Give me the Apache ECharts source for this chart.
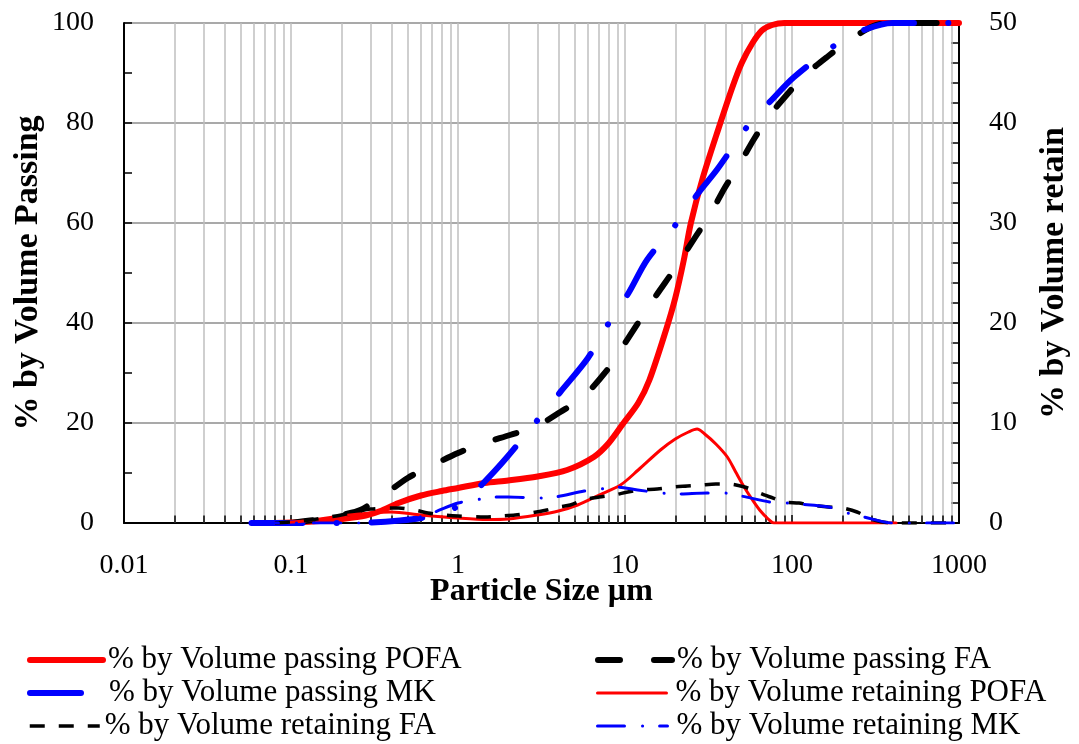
<!DOCTYPE html>
<html><head><meta charset="utf-8">
<script src="https://cdn.jsdelivr.net/npm/echarts@6/dist/echarts.min.js"></script>
<style>html,body{margin:0;padding:0;background:#fff}#c{width:1079px;height:744px}</style>
</head><body><div id="c"></div>
<script>
// ---- tick labels ----
const xTickLabels = ['0.01', '0.1', '1', '10', '100', '1000'];

// ---- % by Volume passing POFA (left axis) ----
const pofaPassX = [0.08, 0.1, 0.15, 0.2, 0.28, 0.35, 0.44, 0.6, 0.8, 1, 1.44, 2, 3, 4.5, 6.5, 8, 9.8, 12, 14, 17.6, 20, 22.5, 24.8, 29.2, 36.4, 44, 50, 58, 66, 76, 90, 200, 500, 1000];
const pofaPassY = [0, 0.1, 0.4, 0.8, 1.5, 2.5, 4.0, 5.5, 6.4, 7.0, 8.0, 8.5, 9.3, 10.6, 13.2, 16, 20, 24, 28.6, 38.6, 45, 52.6, 60, 69, 79, 87.2, 92, 96, 98.5, 99.6, 100, 100, 100, 100];

// ---- % by Volume passing FA (left axis) ----
const faPassX = [0.1, 0.13, 0.17, 0.2, 0.26, 0.36, 0.5, 0.69, 1, 1.37, 2.05, 2.9, 4.1, 5.6, 8, 10, 15, 20, 26.5, 32.7, 39.5, 48.4, 59, 73, 94, 118, 165, 218, 307, 400, 1000];
const faPassY = [0, 0.5, 1.0, 1.6, 2.6, 5.6, 9, 11.4, 14, 15.8, 17.6, 19.2, 22.2, 25.2, 31, 36, 45, 51, 57.3, 62, 67, 71.7, 76.7, 81.4, 85.8, 89.4, 93.4, 96.4, 99.4, 100, 100];

// ---- % by Volume passing MK (left axis) ----
const mkPassX = [0.058, 0.1, 0.2, 0.3, 0.45, 0.6, 0.69, 1.04, 1.4, 1.9, 3.1, 4.1, 6, 8, 10.5, 13.6, 21.3, 27.5, 35.6, 56, 75.5, 103, 193, 280, 400, 1000];
const mkPassY = [0, 0, 0, 0.1, 0.5, 1.0, 1.6, 3.6, 7.8, 12.6, 21.2, 26.2, 33, 40, 46, 52.7, 60.7, 66, 70.7, 80, 84.6, 89.2, 96.2, 98.8, 100, 100];

// ---- % by Volume retaining POFA (right axis) ----
const pofaRetX = [0.08, 0.12, 0.2, 0.3, 0.4, 0.6, 1, 1.5, 2, 3, 4, 5.2, 7, 9.4, 12, 16.3, 20, 24, 27, 30, 35, 41, 46, 51.7, 58, 64, 72, 78, 100, 200, 420];
const pofaRetY = [0, 0.2, 0.7, 1.0, 1.1, 0.8, 0.5, 0.35, 0.4, 0.8, 1.2, 1.8, 2.8, 3.8, 5.3, 7.3, 8.4, 9.1, 9.4, 8.9, 7.9, 6.6, 5.1, 3.6, 2.3, 1.3, 0.4, 0, 0, 0, 0];

// ---- % by Volume retaining FA (right axis) ----
const faRetX = [0.08, 0.1, 0.13, 0.17, 0.2, 0.24, 0.3, 0.44, 0.55, 0.66, 0.83, 1, 1.45, 1.8, 2.2, 2.7, 3.4, 4, 4.7, 5.6, 7, 8.6, 10.4, 12.4, 15.6, 19.5, 23.6, 28.5, 35, 42, 52, 62, 74, 90, 110, 127, 165, 200, 245, 310, 400, 1000];
const faRetY = [0, 0.1, 0.3, 0.6, 0.8, 1.1, 1.4, 1.5, 1.3, 1.0, 0.8, 0.7, 0.6, 0.7, 0.8, 1.0, 1.3, 1.6, 1.8, 2.3, 2.6, 2.8, 3.1, 3.3, 3.4, 3.6, 3.7, 3.8, 3.9, 3.9, 3.6, 3.1, 2.6, 2.1, 2.0, 1.8, 1.6, 1.5, 1.1, 0.3, 0, 0];

// ---- % by Volume retaining MK (right axis) ----
const mkRetX = [0.058, 0.3, 0.5, 0.7, 1, 1.28, 1.6, 2, 3, 3.8, 5.7, 7.1, 8.8, 11.9, 16.6, 20.5, 31, 39, 49.5, 74, 92, 110, 166, 215, 270, 400, 1000];
const mkRetY = [0, 0, 0.3, 1.0, 2.0, 2.3, 2.6, 2.6, 2.5, 2.6, 3.2, 3.4, 3.6, 3.3, 3.0, 2.9, 3.0, 3.0, 2.7, 2.1, 2.0, 1.9, 1.6, 1.0, 0.6, 0, 0];

const seriesNames = [
  '% by Volume passing POFA', '% by Volume passing FA', '% by Volume passing MK',
  '% by Volume retaining POFA', '% by Volume retaining FA', '% by Volume retaining MK'
];

function pairs(xs, ys) { return xs.map((x, i) => [x, ys[i]]); }

// minor log grid positions (2..9 x 10^k)
const minorGrid = [];
for (let e = -2; e < 3; e++) for (let k = 2; k < 10; k++) minorGrid.push(+(k * Math.pow(10, e)).toPrecision(3));

const FONT = 'Liberation Serif';
const gridLines = [];
minorGrid.forEach(v => {
  gridLines.push([{ coord: [v, 0], lineStyle: { color: '#bfbfbf', width: 1.5, type: 'solid' } }, { coord: [v, 100] }]);
});
minorGrid.forEach(v => {
  gridLines.push([{ coord: [v, 0], lineStyle: { color: '#000', width: 1.5, type: 'solid' } }, { coord: [v, 1.5] }]);
});

function lineSeries(idx, xs, ys, yAxisIndex, color, width, dash, cap) {
  return {
    name: seriesNames[idx], type: 'line', xAxisIndex: 0, yAxisIndex: yAxisIndex,
    data: pairs(xs, ys), symbol: 'none', showSymbol: false, smooth: 0.3,
    z: 3 + idx,
    lineStyle: { color: color, width: width, type: dash || 'solid', cap: cap || 'butt', join: 'round' },
    itemStyle: { color: color }
  };
}

function legendAt(name, left, top, w, pad) {
  return {
    data: [name], left: left, top: top, padding: 0, itemWidth: w, itemHeight: 14,
    selectedMode: false,
    itemStyle: { color: 'rgba(0,0,0,0)', borderWidth: 0, opacity: 0 },
    lineStyle: { width: 'inherit' },
    textStyle: { fontFamily: FONT, fontSize: 31, color: '#000', lineHeight: 32, padding: [0, 0, 0, pad || 0] }
  };
}

const chart = echarts.init(document.getElementById('c'), null, { renderer: 'canvas' });
chart.setOption({
  animation: false,
  backgroundColor: '#fff',
  grid: { left: 124, right: 114, top: 23, bottom: 221, containLabel: false },
  xAxis: {
    type: 'log', logBase: 10, min: 0.01, max: 1000,
    name: 'Particle Size µm', nameLocation: 'middle', nameGap: 53, nameMoveOverlap: false,
    nameTextStyle: { fontFamily: FONT, fontSize: 32, fontWeight: 'bold', color: '#000' },
    axisLine: { show: true, onZero: false, lineStyle: { color: '#000', width: 2 } },
    axisTick: { show: true, inside: true, length: 8, lineStyle: { color: '#000', width: 1.5 } },
    axisLabel: { margin: 29, fontFamily: FONT, fontSize: 28, color: '#000',
      formatter: v => xTickLabels[Math.round(Math.log10(v)) + 2] },
    splitLine: { show: true, lineStyle: { color: '#bfbfbf', width: 1.5 } }
  },
  yAxis: [{
    type: 'value', min: 0, max: 100, interval: 20, position: 'left',
    name: '% by Volume Passing', nameLocation: 'middle', nameGap: 79, nameRotate: 90, nameMoveOverlap: false,
    nameTextStyle: { fontFamily: FONT, fontSize: 34, fontWeight: 'bold', color: '#000' },
    axisLine: { show: true, onZero: false, lineStyle: { color: '#000', width: 2 } },
    axisTick: { show: true, inside: true, length: 8, lineStyle: { color: '#000', width: 1.5 } },
    minorTick: { show: true, splitNumber: 2, length: 8, lineStyle: { color: '#000', width: 1.5 } },
    axisLabel: { margin: 30, fontFamily: FONT, fontSize: 28, color: '#000' },
    splitLine: { show: true, lineStyle: { color: '#8c8c8c', width: 1.5 } }
  }, {
    type: 'value', min: 0, max: 50, interval: 10, position: 'right',
    name: '% by Volume retain', nameLocation: 'middle', nameGap: 78, nameRotate: 90, nameMoveOverlap: false,
    nameTextStyle: { fontFamily: FONT, fontSize: 34, fontWeight: 'bold', color: '#000' },
    axisLine: { show: true, onZero: false, lineStyle: { color: '#000', width: 2 } },
    axisTick: { show: true, inside: true, length: 8, lineStyle: { color: '#000', width: 1.5 } },
    minorTick: { show: true, splitNumber: 5, length: 8, lineStyle: { color: '#000', width: 1.5 } },
    axisLabel: { margin: 30, fontFamily: FONT, fontSize: 28, color: '#000' },
    splitLine: { show: false }
  }],
  legend: [
    legendAt(seriesNames[0], 27, 644, 73),
    legendAt(seriesNames[2], 27, 677, 62, 12),
    legendAt(seriesNames[4], 28, 710, 70),
    legendAt(seriesNames[1], 595, 644, 74),
    legendAt(seriesNames[3], 596, 677, 69, 4),
    legendAt(seriesNames[5], 596, 710, 70, 4)
  ],
  series: [
    {
      name: 'grid', type: 'line', data: [], xAxisIndex: 0, yAxisIndex: 0, z: 1, silent: true,
      markLine: { silent: true, z: 1, symbol: ['none', 'none'], label: { show: false }, animation: false, data: gridLines }
    },
    lineSeries(0, pofaPassX, pofaPassY, 0, '#ff0000', 6, 'solid', 'round'),
    lineSeries(1, faPassX, faPassY, 0, '#000000', 6, [22, 34], 'round'),
    lineSeries(2, mkPassX, mkPassY, 0, '#0000ff', 6, [51, 34, 0.1, 35], 'round'),
    lineSeries(3, pofaRetX, pofaRetY, 1, '#ff0000', 3, 'solid', 'round'),
    lineSeries(4, faRetX, faRetY, 1, '#000000', 3.5, [15, 14], 'butt'),
    lineSeries(5, mkRetX, mkRetY, 1, '#0000ff', 3, [27, 18, 0.1, 17], 'round')
  ]
});
</script></body></html>
